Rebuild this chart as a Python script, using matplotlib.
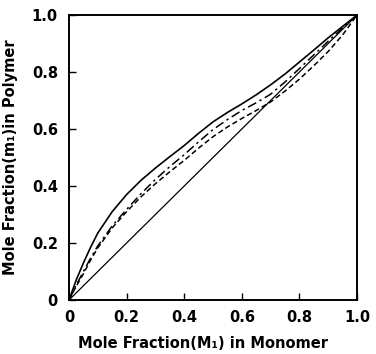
import matplotlib
matplotlib.use("Agg")
import matplotlib.pyplot as plt

# mole fraction of M1 in the monomer feed (shared grid for the three curves)
feed = [0, 0.025, 0.05, 0.075, 0.1, 0.15, 0.2, 0.25, 0.3, 0.35, 0.4, 0.45, 0.5,
        0.55, 0.6, 0.65, 0.7, 0.75, 0.8, 0.85, 0.9, 0.95, 1.0]

# mole fraction of m1 in the polymer
poly_upper = [0, 0.07, 0.13, 0.185, 0.235, 0.31, 0.37, 0.42, 0.463, 0.503, 0.542, 0.585,
              0.625, 0.658, 0.688, 0.72, 0.755, 0.793, 0.835, 0.877, 0.92, 0.96, 1.0]
poly_dashdot = [0, 0.052, 0.10, 0.147, 0.19, 0.26, 0.318, 0.373, 0.423, 0.468, 0.51, 0.555,
                0.598, 0.633, 0.665, 0.692, 0.722, 0.765, 0.812, 0.86, 0.908, 0.955, 1.0]
poly_dashed = [0, 0.048, 0.092, 0.14, 0.183, 0.253, 0.31, 0.362, 0.408, 0.45, 0.49, 0.533,
               0.573, 0.607, 0.637, 0.665, 0.695, 0.733, 0.775, 0.822, 0.872, 0.93, 1.0]

# ideal (azeotropic) line
feed_ideal = [0, 1.0]
poly_ideal = [0, 1.0]

ticks = [0, 0.2, 0.4, 0.6, 0.8, 1.0]
tick_labels = ["0", "0.2", "0.4", "0.6", "0.8", "1.0"]

fig = plt.figure(figsize=(3.76, 3.54), dpi=100)
ax = fig.add_axes([0.1835, 0.1525, 0.7660, 0.8051])

ax.plot(feed, poly_upper, color="black", lw=1.2)
ax.plot(feed, poly_dashdot, color="black", lw=1.1, dashes=(6, 2.5, 1.5, 2.5))
ax.plot(feed, poly_dashed, color="black", lw=1.1, dashes=(3.5, 2))
ax.plot(feed_ideal, poly_ideal, color="black", lw=0.9)

ax.set_xlim(0, 1)
ax.set_ylim(0, 1)
ax.set_xticks(ticks)
ax.set_yticks(ticks)
ax.set_xticklabels(tick_labels, fontsize=10.5, fontweight="bold")
ax.set_yticklabels(tick_labels, fontsize=10.5, fontweight="bold")
ax.tick_params(direction="in", length=5, width=1.0, top=False, right=False)
ax.tick_params(axis="x", pad=7)
ax.tick_params(axis="y", pad=8)

for side, spine in ax.spines.items():
    spine.set_linewidth(1.4)

ax.set_xlabel("Mole Fraction(M₁) in Monomer", fontsize=10.5, fontweight="bold")
ax.xaxis.set_label_coords(0.465, -0.125)
ax.set_ylabel("Mole Fraction(m₁)in Polymer", fontsize=10.5, fontweight="bold", labelpad=10)

fig.savefig("out.png", dpi=100)
